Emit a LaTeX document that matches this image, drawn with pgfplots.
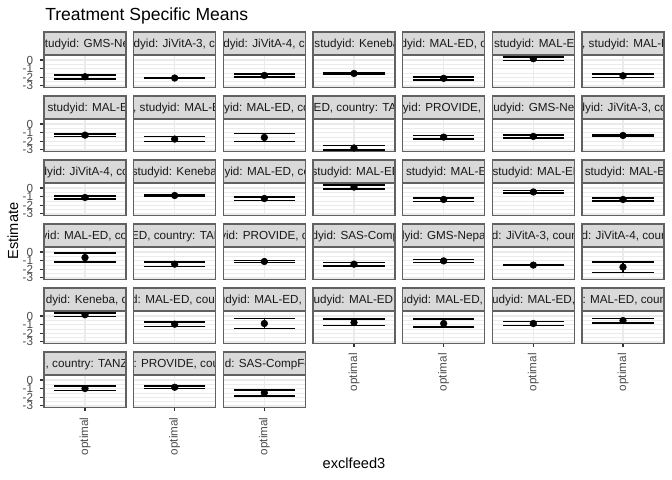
\documentclass[border=0pt]{standalone}
\usepackage{fontspec}
\setmainfont{Liberation Sans}
\usepackage{pgfplots}
\usepackage{pgfplotstable}
\pgfplotsset{compat=1.18}
\definecolor{gr92}{gray}{0.92}
\definecolor{gr85}{gray}{0.85}
\definecolor{gr20}{gray}{0.2}
\definecolor{gr30}{gray}{0.3}
\definecolor{gr10}{gray}{0.1}
\definecolor{bord}{gray}{0.38}
\newcommand{\fs}[1]{\fontsize{#1}{#1}\selectfont}

% idx est lo hi  (one row per facet, row-major order)
\pgfplotstableread{
idx est lo hi
0 -1.94 -2.21 -1.75
1 -2.09 -2.16 -2.02
2 -1.79 -1.98 -1.60
3 -1.56 -1.61 -1.51
4 -2.13 -2.32 -1.98
5 0.15 -0.08 0.34
6 -1.83 -2.02 -1.63
7 -1.29 -1.45 -1.13
8 -1.75 -2.02 -1.44
9 -1.56 -2.05 -1.10
10 -2.78 -3.04 -2.51
11 -1.52 -1.71 -1.33
12 -1.44 -1.60 -1.29
13 -1.33 -1.38 -1.28
14 -1.10 -1.29 -0.91
15 -0.87 -0.93 -0.82
16 -1.22 -1.44 -1.03
17 0.11 -0.15 0.38
18 -1.33 -1.56 -1.14
19 -0.46 -0.61 -0.27
20 -1.33 -1.48 -1.14
21 -0.65 -1.18 -0.15
22 -1.41 -1.67 -1.14
23 -1.10 -1.22 -0.99
24 -1.41 -1.60 -1.22
25 -1.03 -1.22 -0.87
26 -1.52 -1.57 -1.47
27 -1.75 -2.40 -1.18
28 0.15 -0.04 0.34
29 -0.95 -1.22 -0.68
30 -0.87 -1.44 -0.27
31 -0.76 -1.10 -0.38
32 -0.87 -1.29 -0.38
33 -0.87 -1.10 -0.65
34 -0.53 -0.84 -0.30
35 -0.99 -1.22 -0.72
36 -0.84 -0.99 -0.68
37 -1.48 -1.83 -1.14
}\means

\pgfplotsset{
  panel/.style={
    anchor=south west, scale only axis, width=61.5bp, height=24.25bp,
    xmin=0.4, xmax=1.6, ymin=-3.17, ymax=0.58,
    xtick={1}, ytick={-3,-2,-1,0}, minor ytick={-2.5,-1.5,-0.5,0.5},
    xmajorgrids, ymajorgrids, yminorgrids,
    major grid style={draw=gr92, line width=1.07bp},
    minor grid style={draw=gr92, line width=0.53bp},
    axis line style={draw=bord, line width=0.8bp},
    xticklabels={,}, yticklabels={,,,,},
    xtick style={draw=none}, ytick style={draw=none},
    minor tick length=0pt, tick pos=left,
    tick align=outside, major tick length=2.75bp,
    clip=false,
  },
  leftcol/.style={
    yticklabels={-3,-2,-1,0},
    ytick style={draw=gr20, line width=0.9bp},
    yticklabel style={font=\fs{8.8}, text=gr30, anchor=east, inner sep=0pt, xshift=-5.2bp},
  },
  bottom/.style={
    xticklabels={optimal},
    xtick style={draw=gr20, line width=0.9bp},
    xticklabel style={font=\fs{8.8}, text=gr30, rotate=90, anchor=east, inner sep=0pt, xshift=-4.6bp},
  },
  estpt/.style={
    black, only marks, mark=*, mark size=2.5bp, mark options={fill=black, draw=black, line width=0.4bp},
    error bars/.cd, y dir=both, y explicit,
    error bar style={line width=1.2bp, black, solid},
    error mark=-, error mark options={rotate=90, line width=1.2bp, mark size=23.06bp, black},
  },
}

\newcommand{\panel}[5]{%
  \pgfmathsetmacro\PX{33+67.25*#2}%
  \pgfmathsetmacro\PY{294.5-48*#3}%
  \pgfmathsetmacro\PXR{\PX+61.5}%
  \pgfmathsetmacro\PYT{\PY+24.25}%
  \pgfmathsetmacro\PST{\PYT+17.25}%
  \pgfmathsetmacro\PXM{\PX+30.75}%
  \pgfmathsetmacro\PB{324.2-48*#3}%
  \begin{axis}[panel, at={(\PX bp,\PY bp)}, #5]
    \addplot[restrict expr to domain={\coordindex}{#1:#1}, estpt]
      table[x expr=1, y=est,
            y error plus expr=\thisrow{hi}-\thisrow{est},
            y error minus expr=\thisrow{est}-\thisrow{lo}] {\means};
  \end{axis}
  \fill[gr85] (\PX bp,\PYT bp) rectangle (\PXR bp,\PST bp);
  \begin{scope}
    \clip (\PX bp,\PYT bp) rectangle (\PXR bp,\PST bp);
    \node[anchor=base, inner sep=0pt, text=gr10, font=\fs{8.8}] at (\PXM bp,\PB bp) {#4};
  \end{scope}
  \draw[bord, line width=0.8bp] (\PX bp,\PYT bp) rectangle (\PXR bp,\PST bp);
}

\begin{document}
\begin{tikzpicture}
\path[use as bounding box] (0,0) rectangle (504bp,360bp);
% group: 24 months
\panel{0}{0}{0}{agecat: 24 months, studyid: GMS-Nepal, country: NEPAL}{leftcol}
\panel{1}{1}{0}{agecat: 24 months, studyid: JiVitA-3, country: BANGLADESH}{}
\panel{2}{2}{0}{agecat: 24 months, studyid: JiVitA-4, country: BANGLADESH}{}
\panel{3}{3}{0}{agecat: 24 months, studyid: Keneba, country: GAMBIA}{}
\panel{4}{4}{0}{agecat: 24 months, studyid: MAL-ED, country: BANGLADESH}{}
\panel{5}{5}{0}{agecat: 24 months, studyid: MAL-ED, country: BRAZIL}{}
\panel{6}{6}{0}{agecat: 24 months, studyid: MAL-ED, country: INDIA}{}
\panel{7}{0}{1}{agecat: 24 months, studyid: MAL-ED, country: NEPAL}{leftcol}
\panel{8}{1}{1}{agecat: 24 months, studyid: MAL-ED, country: PERU}{}
\panel{9}{2}{1}{agecat: 24 months, studyid: MAL-ED, country: SOUTH AFRICA}{}
\panel{10}{3}{1}{agecat: 24 months, studyid: MAL-ED, country: TANZANIA, UNITED REPUBLIC OF}{}
\panel{11}{4}{1}{agecat: 24 months, studyid: PROVIDE, country: BANGLADESH}{}
% group: 6 months
\panel{12}{5}{1}{agecat: 6 months, studyid: GMS-Nepal, country: NEPAL}{}
\panel{13}{6}{1}{agecat: 6 months, studyid: JiVitA-3, country: BANGLADESH}{}
\panel{14}{0}{2}{agecat: 6 months, studyid: JiVitA-4, country: BANGLADESH}{leftcol}
\panel{15}{1}{2}{agecat: 6 months, studyid: Keneba, country: GAMBIA}{}
\panel{16}{2}{2}{agecat: 6 months, studyid: MAL-ED, country: BANGLADESH}{}
\panel{17}{3}{2}{agecat: 6 months, studyid: MAL-ED, country: BRAZIL}{}
\panel{18}{4}{2}{agecat: 6 months, studyid: MAL-ED, country: INDIA}{}
\panel{19}{5}{2}{agecat: 6 months, studyid: MAL-ED, country: NEPAL}{}
\panel{20}{6}{2}{agecat: 6 months, studyid: MAL-ED, country: PERU}{}
\panel{21}{0}{3}{agecat: 6 months, studyid: MAL-ED, country: SOUTH AFRICA}{leftcol}
\panel{22}{1}{3}{agecat: 6 months, studyid: MAL-ED, country: TANZANIA, UNITED REPUBLIC OF}{}
\panel{23}{2}{3}{agecat: 6 months, studyid: PROVIDE, country: BANGLADESH}{}
\panel{24}{3}{3}{agecat: 6 months, studyid: SAS-CompFeed, country: INDIA}{}
% group: Birth
\panel{25}{4}{3}{agecat: Birth, studyid: GMS-Nepal, country: NEPAL}{}
\panel{26}{5}{3}{agecat: Birth, studyid: JiVitA-3, country: BANGLADESH}{}
\panel{27}{6}{3}{agecat: Birth, studyid: JiVitA-4, country: BANGLADESH}{}
\panel{28}{0}{4}{agecat: Birth, studyid: Keneba, country: GAMBIA}{leftcol}
\panel{29}{1}{4}{agecat: Birth, studyid: MAL-ED, country: BANGLADESH}{}
\panel{30}{2}{4}{agecat: Birth, studyid: MAL-ED, country: BRAZIL}{}
\panel{31}{3}{4}{agecat: Birth, studyid: MAL-ED, country: INDIA}{bottom}
\panel{32}{4}{4}{agecat: Birth, studyid: MAL-ED, country: NEPAL}{bottom}
\panel{33}{5}{4}{agecat: Birth, studyid: MAL-ED, country: PERU}{bottom}
\panel{34}{6}{4}{agecat: Birth, studyid: MAL-ED, country: SOUTH AFRICA}{bottom}
\panel{35}{0}{5}{agecat: Birth, studyid: MAL-ED, country: TANZANIA, UNITED REPUBLIC OF}{leftcol,bottom}
\panel{36}{1}{5}{agecat: Birth, studyid: PROVIDE, country: BANGLADESH}{bottom}
\panel{37}{2}{5}{agecat: Birth, studyid: SAS-CompFeed, country: INDIA}{bottom}

\node[anchor=base west, inner sep=0pt, font=\fs{13.2}] at (33.75bp,344.6bp) {Treatment Specific Means};
\node[anchor=base, inner sep=0pt, rotate=90, font=\fs{11}] at (13.5bp,186.75bp) {Estimate};
\node[anchor=base, inner sep=0pt, font=\fs{11}] at (265.5bp,9bp) {exclfeed3};
\end{tikzpicture}
\end{document}
